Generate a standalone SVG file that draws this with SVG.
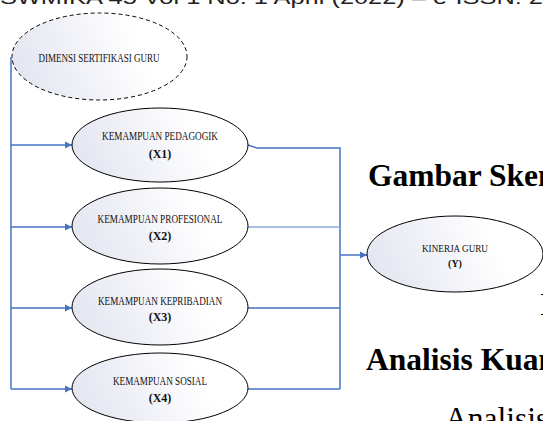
<svg xmlns="http://www.w3.org/2000/svg" width="543" height="421" viewBox="0 0 543 421">
<defs>
<linearGradient id="g" x1="0" y1="0.6" x2="1" y2="0.4">
<stop offset="0" stop-color="#E3E5F0"/>
<stop offset="0.75" stop-color="#FFFFFF"/>
</linearGradient>
<marker id="ah" markerWidth="8" markerHeight="8" refX="7" refY="4" orient="auto" markerUnits="userSpaceOnUse">
<path d="M0,0.5 L7,4 L0,7.5 Z" fill="#4472C4"/>
</marker>
<style>
.el{fill:url(#g);stroke:#000;stroke-width:1}
.dash{stroke-dasharray:4 3}
.t{font-family:"Liberation Serif","Times New Roman",serif;font-size:12px;fill:#111}
.b{font-weight:bold}
.big{font-family:"Liberation Serif","Times New Roman",serif;font-size:31.5px;fill:#000}
.ln{fill:none;stroke:#4472C4;stroke-width:1.5}
.ln2{fill:none;stroke:#8EA9DB;stroke-width:1.5}
</style>
</defs>
<rect width="543" height="421" fill="#fff"/>
<text x="0" y="4" font-family="'Liberation Sans',Arial,sans-serif" font-size="19" fill="#222" textLength="543" lengthAdjust="spacingAndGlyphs">SWMIKA 45  Vol 1 No. 1 April (2022)  – e-ISSN: 2</text>

<g id="connectors">
<path class="ln" d="M11,57 V389"/>
<path class="ln" d="M11,145 H72" marker-end="url(#ah)"/>
<path class="ln" d="M11,227 H72" marker-end="url(#ah)"/>
<path class="ln" d="M11,308 H72" marker-end="url(#ah)"/>
<path class="ln" d="M11,389 H72" marker-end="url(#ah)"/>
<path class="ln" d="M248,145 L257,148 H340 V389"/>
<path class="ln2" d="M248,227 H340"/>
<path class="ln" d="M248,308 H340"/>
<path class="ln" d="M248,389 H340"/>
<path class="ln" d="M340,255 H367" marker-end="url(#ah)"/>
</g>

<g id="dimensi">
<ellipse class="el dash" cx="99.5" cy="56.5" rx="87.5" ry="43.5"/>
<text class="t" x="99" y="62" text-anchor="middle" textLength="121" lengthAdjust="spacingAndGlyphs">DIMENSI SERTIFIKASI GURU</text>
</g>
<g id="x1">
<ellipse class="el" cx="160" cy="145" rx="88" ry="37"/>
<text class="t" x="160" y="140" text-anchor="middle" textLength="116" lengthAdjust="spacingAndGlyphs">KEMAMPUAN PEDAGOGIK</text>
<text class="t b" x="160" y="158" text-anchor="middle">(X1)</text>
</g>
<g id="x2">
<ellipse class="el" cx="160" cy="226" rx="88" ry="38"/>
<text class="t" x="160" y="223" text-anchor="middle" textLength="125" lengthAdjust="spacingAndGlyphs">KEMAMPUAN PROFESIONAL</text>
<text class="t b" x="160" y="240" text-anchor="middle">(X2)</text>
</g>
<g id="x3">
<ellipse class="el" cx="160" cy="307" rx="88" ry="38"/>
<text class="t" x="160" y="305" text-anchor="middle" textLength="124" lengthAdjust="spacingAndGlyphs">KEMAMPUAN KEPRIBADIAN</text>
<text class="t b" x="160" y="321" text-anchor="middle">(X3)</text>
</g>
<g id="x4">
<ellipse class="el" cx="160" cy="388" rx="88" ry="35"/>
<text class="t" x="160" y="385" text-anchor="middle" textLength="94" lengthAdjust="spacingAndGlyphs">KEMAMPUAN SOSIAL</text>
<text class="t b" x="160" y="402" text-anchor="middle">(X4)</text>
</g>
<g id="y">
<ellipse class="el" cx="455" cy="254" rx="88" ry="38"/>
<text class="t" x="455" y="252" text-anchor="middle" textLength="66" lengthAdjust="spacingAndGlyphs" style="font-size:10px">KINERJA GURU</text>
<text class="t b" x="455" y="267" text-anchor="middle" style="font-size:10px">(Y)</text>
</g>

<text class="big b" x="368" y="186">Gambar Skema</text>
<text class="big" x="540" y="315">D</text>
<text class="big b" x="366" y="370">Analisis Kuantitatif</text>
<text class="big" x="445" y="429">Analisis</text>
</svg>
